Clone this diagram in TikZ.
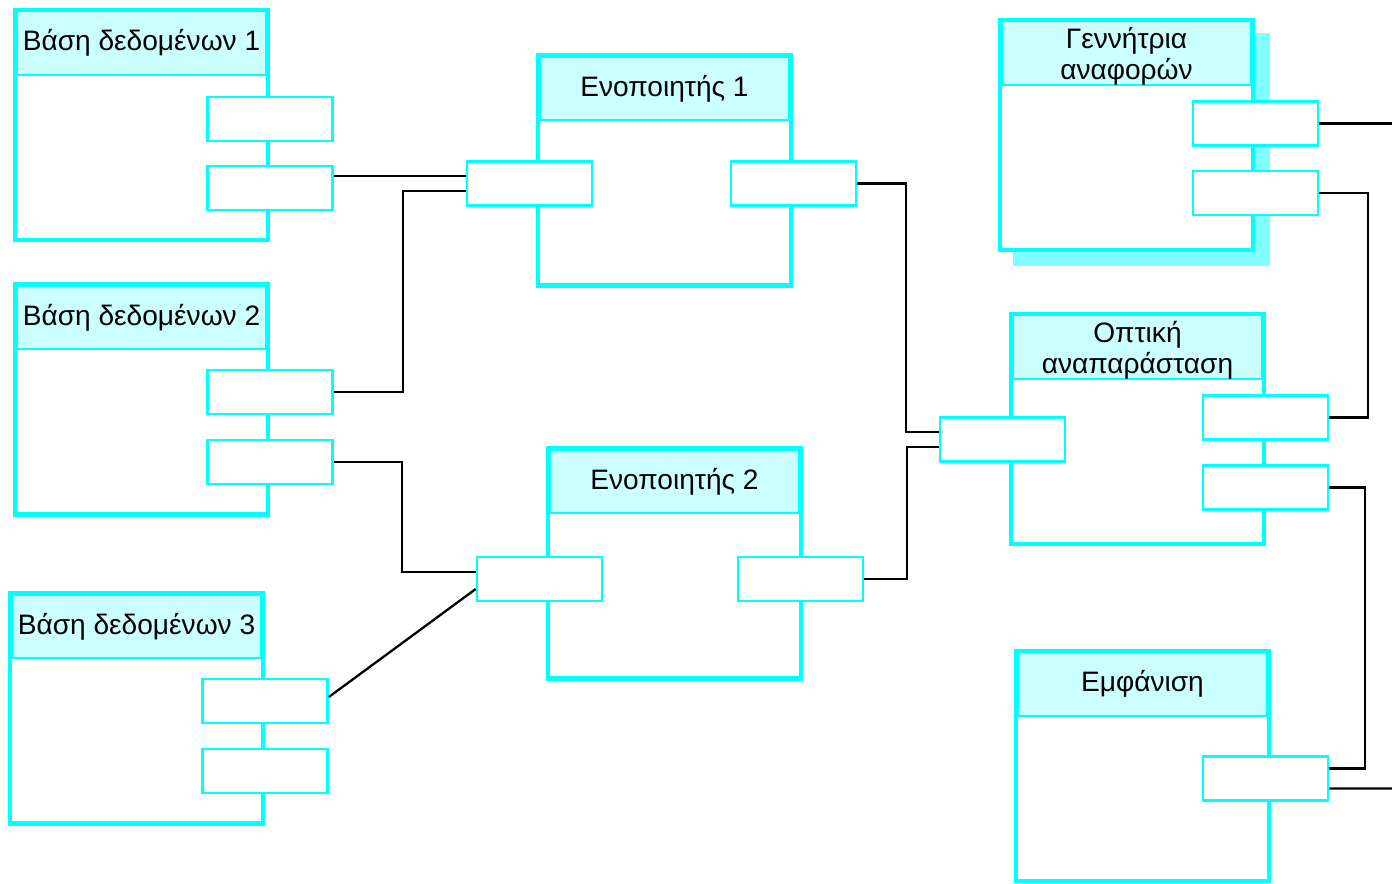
\documentclass[tikz,border=0pt]{standalone}
\usepackage{fontspec}
\setmainfont{Liberation Sans}
\usepackage{tikz}
\definecolor{compcyan}{HTML}{00FFFF}
\definecolor{headcyan}{HTML}{CCFFFF}
\definecolor{shadowcyan}{HTML}{80FFFF}

\begin{document}
\begin{tikzpicture}[x=0.02cm, y=-0.02cm,
        compbox/.style={draw=compcyan, fill=white, line width=2.6pt, minimum width=5.06cm, minimum height=4.6cm, inner sep=0pt},
        headbox/.style={fill=headcyan, draw=compcyan, line width=1.2pt, minimum width=5.06cm-2.6pt, minimum height=1.32cm-1.3pt, inner sep=0pt, anchor=north, align=center, font=\fontsize{16}{17.5}\selectfont},
        port/.style={fill=white, draw=compcyan, line width=1.5pt, minimum width=2.5cm, minimum height=0.88cm, inner sep=0pt},
        wire/.style={draw=black, line width=1.3pt}]
        \useasboundingbox (0,0) rectangle (1392,883);
        % shadow of the report generator
        \fill[shadowcyan] (1013,33) rectangle (1270,266);

        % components
        \node (db1) [compbox] at (141.5,125) {};
        \node (db1h) [headbox] at ([yshift=-1.3pt]db1.north) {Βάση δεδομένων 1};
        \node (db2) [compbox] at (141.5,399.5) {};
        \node (db2h) [headbox] at ([yshift=-1.3pt]db2.north) {Βάση δεδομένων 2};
        \node (db3) [compbox] at (136.5,708.5) {};
        \node (db3h) [headbox] at ([yshift=-1.3pt]db3.north) {Βάση δεδομένων 3};
        \node (en1) [compbox] at (664.5,170.5) {};
        \node (en1h) [headbox] at ([yshift=-1.3pt]en1.north) {Ενοποιητής 1};
        \node (en2) [compbox] at (674.5,563.5) {};
        \node (en2h) [headbox] at ([yshift=-1.3pt]en2.north) {Ενοποιητής 2};
        \node (gen) [compbox] at (1126.5,135) {};
        \node (genh) [headbox] at ([yshift=-1.3pt]gen.north) {\parbox{5cm}{\centering\vspace{3.5pt}Γεννήτρια\\αναφορών}};
        \node (opt) [compbox] at (1137.5,429) {};
        \node (opth) [headbox] at ([yshift=-1.3pt]opt.north) {\parbox{5cm}{\centering\vspace{3.5pt}Οπτική\\αναπαράσταση}};
        \node (emf) [compbox] at (1142.5,766) {};
        \node (emfh) [headbox] at ([yshift=-1.3pt]emf.north) {Εμφάνιση};

        % ports
        \node (db1a) [port] at (270,119) {};
        \node (db1b) [port] at (270,188) {};
        \node (db2a) [port] at (270,392) {};
        \node (db2b) [port] at (270,462) {};
        \node (db3a) [port] at (265,701) {};
        \node (db3b) [port] at (265,771) {};
        \node (en1in) [port] at (529.5,183.5) {};
        \node (en1out) [port] at (793.5,183.5) {};
        \node (en2in) [port] at (539.5,579) {};
        \node (en2out) [port] at (800.5,579) {};
        \node (gena) [port] at (1255.5,123.5) {};
        \node (genb) [port] at (1255.5,193) {};
        \node (optin) [port] at (1002.5,439.5) {};
        \node (opta) [port] at (1265.5,417.5) {};
        \node (optb) [port] at (1265.5,487.5) {};
        \node (emfa) [port] at (1265.5,778.5) {};

        % connectors
        \coordinate (w1) at ([yshift=.24cm]db1b.east);
        \coordinate (out1) at (1392,123.5);
        \coordinate (out2) at (1392,788.5);
        \draw[wire] (w1) -- (w1 -| en1in.west);
        \draw[wire] (db2a.east) -- ++(1.38cm,0) |- ([yshift=-.15cm]en1in.west);
        \draw[wire] (db2b.east) -- ++(1.36cm,0) |- ([yshift=.14cm]en2in.west);
        \draw[wire] ([yshift=.08cm]db3a.east) -- ([yshift=-.2cm]en2in.west);
        \draw[wire] (en1out.east) -- ++(0.98cm,0) |- ([yshift=.15cm]optin.west);
        \draw[wire] (en2out.east) -- ++(0.86cm,0) |- ([yshift=-.15cm]optin.west);
        \draw[wire] (gena.east) -- (out1);
        \draw[wire] (genb.east) -- ++(0.98cm,0) |- (opta.east);
        \draw[wire] (optb.east) -- ++(0.72cm,0) |- ([yshift=.2cm]emfa.east);
        \draw[wire] ([yshift=-.2cm]emfa.east) -- (out2);
    \end{tikzpicture}
\end{document}
